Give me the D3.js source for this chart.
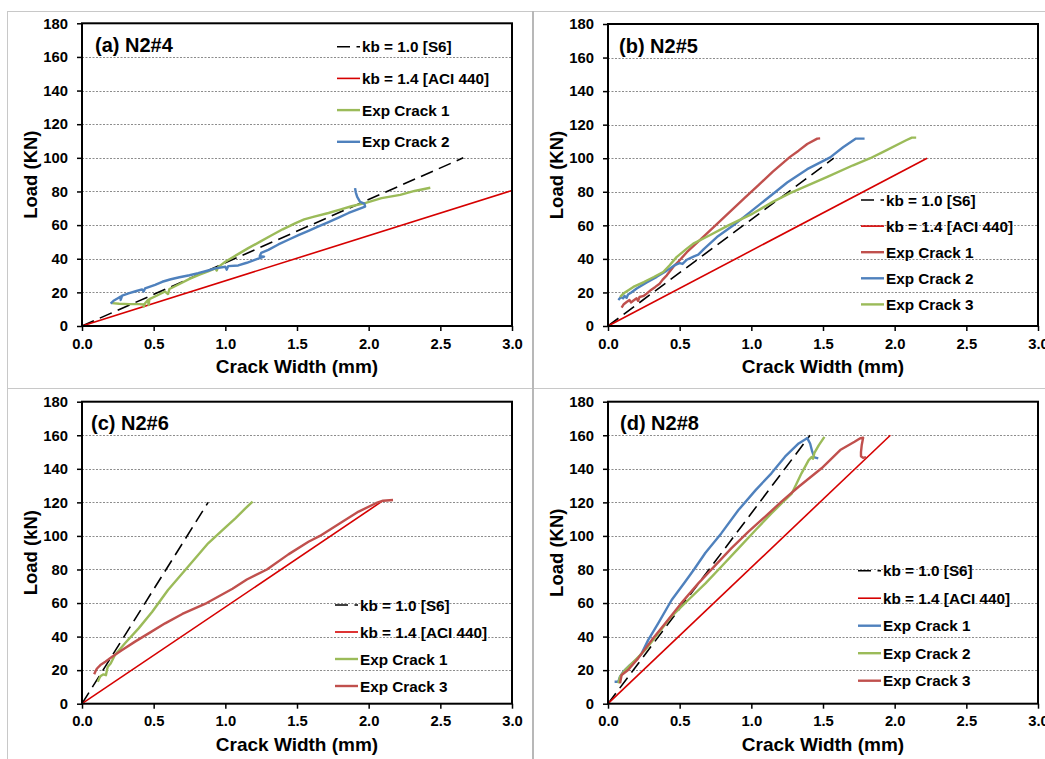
<!DOCTYPE html>
<html>
<head>
<meta charset="utf-8">
<script src="https://cdn.jsdelivr.net/npm/d3@7"></script>
<style>
  body { margin: 0; background: #fff; }
  svg { display: block; font-family: "Liberation Sans", Arial, sans-serif; font-weight: bold; }
</style>
</head>
<body>
<div id="chart"></div>
<script>
// ticks
const xTicks = [0, 0.5, 1.0, 1.5, 2.0, 2.5, 3.0];
const yTicks = [0, 20, 40, 60, 80, 100, 120, 140, 160, 180];

// (a) N2#4
const aS6 = [[0, 0], [2.66, 100]];
const aAci = [[0, 0], [3.0, 80.6]];
const aCrack1 = [[0.21, 13.6], [0.26, 13.2], [0.33, 13], [0.40, 13], [0.43, 12.8], [0.43, 11.5], [0.44, 13.5], [0.46, 15.5], [0.465, 12.5], [0.47, 16], [0.52, 18], [0.58, 20.5], [0.60, 19], [0.61, 22], [0.68, 25], [0.75, 28], [0.82, 30.5], [0.88, 32.5], [0.93, 34.3], [0.94, 33], [0.95, 35], [1.0, 38.2], [1.08, 42.3], [1.16, 46.3], [1.24, 50], [1.32, 53.8], [1.40, 57.5], [1.49, 61.2], [1.55, 63.4], [1.62, 65], [1.72, 67.2], [1.80, 69.2], [1.88, 71.2], [1.98, 73.2], [2.09, 76], [2.22, 78], [2.32, 80.3], [2.43, 82.2]];
const aCrack2 = [[0.20, 13.3], [0.22, 15], [0.25, 16.5], [0.27, 17.5], [0.27, 15.5], [0.28, 18], [0.33, 19.5], [0.38, 20.8], [0.42, 21.8], [0.43, 20.5], [0.44, 22.3], [0.51, 24.5], [0.56, 26.3], [0.62, 27.8], [0.68, 29], [0.75, 30.2], [0.81, 31.4], [0.88, 33], [0.93, 34.3], [1.0, 35.2], [1.01, 33.5], [1.02, 35.6], [1.09, 36], [1.15, 37.6], [1.21, 39.4], [1.27, 41.2], [1.24, 41.5], [1.25, 43.5], [1.30, 45.3], [1.37, 48.5], [1.44, 51.3], [1.51, 54], [1.58, 56.6], [1.65, 59.2], [1.72, 61.8], [1.79, 64.5], [1.86, 67.2], [1.92, 69.2], [1.975, 71], [1.97, 72.8], [1.94, 73.8], [1.92, 76.8], [1.91, 79.5], [1.905, 82]];

// (b) N2#5
const bS6 = [[0, 0], [1.575, 100]];
const bAci = [[0, 0], [2.226, 100]];
const bCrack1 = [[0.095, 10.9], [0.11, 13], [0.13, 14.3], [0.15, 15.5], [0.16, 14], [0.18, 15.3], [0.20, 16.5], [0.21, 15], [0.22, 17.3], [0.25, 18], [0.27, 19.3], [0.30, 21.5], [0.33, 23.3], [0.36, 25.2], [0.38, 27.5], [0.41, 30.2], [0.455, 35.2], [0.50, 39.2], [0.55, 44], [0.65, 52], [0.75, 60], [0.85, 68], [0.95, 76], [1.05, 84], [1.15, 92], [1.27, 100.8], [1.33, 104.5], [1.39, 108.5], [1.46, 111.7], [1.48, 111.8]];
const bCrack2 = [[0.072, 15.5], [0.09, 17.2], [0.105, 16.5], [0.115, 18], [0.13, 16.8], [0.14, 18.8], [0.16, 19.8], [0.2, 22.3], [0.27, 26], [0.34, 29.3], [0.41, 33], [0.47, 36.5], [0.50, 37.5], [0.52, 37], [0.55, 39.5], [0.60, 41.5], [0.63, 42.5], [0.67, 46], [0.76, 53], [0.875, 60], [1.0, 68.5], [1.17, 80], [1.25, 85.5], [1.39, 93.5], [1.55, 100.5], [1.64, 106.5], [1.73, 111.7], [1.79, 111.7]];
const bCrack3 = [[0.084, 17.3], [0.107, 19.3], [0.177, 23.3], [0.25, 26.2], [0.32, 29.2], [0.385, 32.2], [0.43, 36.2], [0.48, 41.2], [0.55, 46.1], [0.595, 49.1], [0.71, 54.1], [0.84, 60], [1.01, 67], [1.15, 74], [1.27, 79.2], [1.53, 88.9], [1.71, 95.8], [1.83, 100], [1.92, 103.8], [2.08, 110.7], [2.12, 112.3], [2.15, 112.3]];

// (c) N2#6
const cS6 = [[0, 0], [0.88, 120]];
const cAci = [[0, 0], [2.1, 121]];
const cCrack1 = [[0.11, 13.1], [0.12, 15], [0.128, 16.3], [0.15, 17.5], [0.167, 17], [0.174, 20.1], [0.18, 22], [0.2, 24], [0.23, 29], [0.30, 36], [0.395, 44.9], [0.49, 54.8], [0.60, 67.8], [0.72, 79.7], [0.81, 88.6], [0.88, 95.6], [0.98, 103.5], [1.07, 110.5], [1.14, 116.4], [1.19, 120.4]];
const cCrack3 = [[0.085, 17.5], [0.095, 19.5], [0.105, 21], [0.128, 23], [0.163, 25], [0.21, 28], [0.28, 32], [0.37, 37], [0.465, 41.9], [0.58, 47.9], [0.70, 53.5], [0.87, 60], [1.05, 68.5], [1.15, 74], [1.29, 80], [1.44, 89], [1.58, 96.5], [1.66, 100], [1.80, 107.5], [1.93, 114.5], [2.05, 119.5], [2.10, 121], [2.17, 121.4]];

// (d) N2#8
const dS6 = [[0, 0], [1.41, 160]];
const dAci = [[0, 0], [1.97, 160]];
const dCrack1 = [[0.046, 13.1], [0.072, 13.1], [0.084, 16.1], [0.107, 19.1], [0.153, 23], [0.2, 26.4], [0.235, 30], [0.28, 37.9], [0.35, 47.9], [0.444, 61.8], [0.537, 72.5], [0.60, 80], [0.68, 90], [0.79, 101.5], [0.91, 115.4], [1.03, 127.3], [1.14, 137.3], [1.235, 147.2], [1.33, 155.1], [1.375, 157.5], [1.39, 158.3], [1.41, 155.1], [1.425, 150.2], [1.44, 146.8], [1.467, 146.2]];
const dCrack2 = [[0.072, 12.1], [0.084, 16.1], [0.12, 20.1], [0.19, 26], [0.26, 32], [0.35, 41.9], [0.44, 51.8], [0.56, 61.8], [0.68, 71.7], [0.79, 81.6], [0.91, 92.6], [1.03, 103.5], [1.14, 113.4], [1.235, 121.4], [1.28, 125], [1.305, 129.3], [1.35, 137.3], [1.40, 145.2], [1.42, 147], [1.43, 146], [1.44, 149.5], [1.47, 154], [1.51, 159]];
const dCrack3 = [[0.084, 12.1], [0.095, 17.1], [0.14, 20.1], [0.21, 27], [0.305, 37.9], [0.40, 47.9], [0.51, 59.8], [0.63, 71.7], [0.75, 82.6], [0.86, 92.6], [0.98, 102.5], [1.095, 111.4], [1.21, 120.4], [1.33, 129.3], [1.49, 140.3], [1.62, 151.2], [1.72, 156.1], [1.76, 158.2], [1.78, 158.5], [1.77, 154], [1.765, 150], [1.765, 147.5], [1.78, 146.5], [1.80, 147]];

const C = { black: "#000", aci: "#d60000", red: "#c0504d", blue: "#4f81bd", green: "#9bbb59" };

const s6 = (d) => ({ name: "kb = 1.0 [S6]", data: d, color: C.black, dash: "13,6.5", w: 1.6 });
const aci = (d) => ({ name: "kb = 1.4 [ACI 440]", data: d, color: C.aci, w: 1.6 });
const exp = (name, d, color) => ({ name, data: d, color, w: 2.4 });

const panels = [
  { title: "(a) N2#4", yLabel: "Load (KN)", box: [82, 23.3, 512, 326], titleDx: 13,
    legend: { dx: 255, dy: 23.4, step: 31.7 },
    series: [s6(aS6), aci(aAci), exp("Exp Crack 1", aCrack1, C.green), exp("Exp Crack 2", aCrack2, C.blue)] },
  { title: "(b) N2#5", yLabel: "Load (KN)", box: [608, 24, 1038, 326], titleDx: 11,
    legend: { dx: 253, dy: 176, step: 26.1 },
    series: [s6(bS6), aci(bAci), exp("Exp Crack 1", bCrack1, C.red), exp("Exp Crack 2", bCrack2, C.blue), exp("Exp Crack 3", bCrack3, C.green)] },
  { title: "(c) N2#6", yLabel: "Load (kN)", box: [82, 401.7, 512, 703.7], titleDx: 9,
    legend: { dx: 253, dy: 203.3, step: 27 },
    series: [s6(cS6), aci(cAci), exp("Exp Crack 1", cCrack1, C.green), exp("Exp Crack 3", cCrack3, C.red)] },
  { title: "(d) N2#8", yLabel: "Load (KN)", box: [608, 401.7, 1038, 703.7], titleDx: 12,
    legend: { dx: 250, dy: 169, step: 27.5 },
    series: [s6(dS6), aci(dAci), exp("Exp Crack 1", dCrack1, C.blue), exp("Exp Crack 2", dCrack2, C.green), exp("Exp Crack 3", dCrack3, C.red)] },
];

const W = 1045, H = 759;
const svg = d3.select("#chart").append("svg").attr("width", W).attr("height", H);

// panel frames (grey separators)
const frame = svg.append("g").attr("stroke", "#c8c8c8").attr("fill", "none");
frame.append("line").attr("x1", 7.5).attr("x2", 7.5).attr("y1", 11).attr("y2", H);
frame.append("line").attr("x1", 7).attr("x2", W).attr("y1", 11.5).attr("y2", 11.5);
frame.append("line").attr("x1", 7).attr("x2", W).attr("y1", 388.5).attr("y2", 388.5);
frame.append("line").attr("x1", 533).attr("x2", 533).attr("y1", 11).attr("y2", H).attr("stroke", "#b8b8b8").attr("stroke-width", 2);

panels.forEach((p) => {
  const [L, T, R, B] = p.box;
  const x = d3.scaleLinear().domain([0, 3]).range([L, R]);
  const y = d3.scaleLinear().domain([0, 180]).range([B, T]);
  const g = svg.append("g");

  // dotted gridlines
  g.append("g")
    .selectAll("line")
    .data(yTicks.filter((v) => v > 0 && v < 180))
    .join("line")
    .attr("x1", L).attr("x2", R)
    .attr("y1", (d) => Math.round(y(d)) + 0.5).attr("y2", (d) => Math.round(y(d)) + 0.5)
    .attr("stroke", "#8c8c8c").attr("stroke-width", 1).attr("stroke-dasharray", "2,1.5");

  // axes
  const ya = g.append("g").attr("transform", `translate(${L},0)`)
    .call(d3.axisLeft(y).tickValues(yTicks).tickSize(5).tickPadding(9).tickFormat(d3.format("d")));
  const xa = g.append("g").attr("transform", `translate(0,${B})`)
    .call(d3.axisBottom(x).tickValues(xTicks).tickSize(5).tickPadding(7).tickFormat(d3.format(".1f")));
  [ya, xa].forEach((a) => {
    a.select(".domain").remove();
    a.selectAll(".tick line").attr("stroke", "#000").attr("stroke-width", 1.5);
    a.selectAll(".tick text").attr("fill", "#000")
      .style("font-size", "14.8px").style("font-weight", "bold")
      .style("font-family", '"Liberation Sans", Arial, sans-serif');
  });

  // series
  const line = d3.line().x((d) => x(d[0])).y((d) => y(d[1]));
  g.append("g")
    .selectAll("path")
    .data(p.series)
    .join("path")
    .attr("d", (s) => line(s.data))
    .attr("fill", "none")
    .attr("stroke", (s) => s.color)
    .attr("stroke-width", (s) => s.w)
    .attr("stroke-dasharray", (s) => s.dash || null)
    .attr("stroke-linejoin", "round");

  // plot box
  g.append("rect")
    .attr("x", L).attr("y", T).attr("width", R - L).attr("height", B - T)
    .attr("fill", "none").attr("stroke", "#000").attr("stroke-width", 2);

  // panel title
  g.append("text")
    .attr("x", L + p.titleDx).attr("y", T + 28.5)
    .attr("font-size", 20).text(p.title);

  // legend
  const lg = g.append("g").attr("transform", `translate(${L + p.legend.dx},${T + p.legend.dy})`);
  const row = lg.selectAll("g").data(p.series).join("g")
    .attr("transform", (d, i) => `translate(0,${i * p.legend.step})`);
  row.append("line")
    .attr("x1", 0).attr("x2", 23).attr("y1", 0).attr("y2", 0)
    .attr("stroke", (s) => s.color).attr("stroke-width", (s) => s.w)
    .attr("stroke-dasharray", (s) => s.dash || null);
  row.append("text")
    .attr("x", 25).attr("y", 0).attr("dy", "0.36em")
    .attr("font-size", 15.3)
    .text((s) => s.name);

  // axis titles
  g.append("text")
    .attr("x", (L + R) / 2).attr("y", B + 47)
    .attr("text-anchor", "middle").attr("font-size", 19)
    .text("Crack Width (mm)");
  g.append("text")
    .attr("transform", `translate(${L - 52},${(T + B) / 2}) rotate(-90)`)
    .attr("text-anchor", "middle").attr("dy", "0.36em").attr("font-size", 18.5)
    .text(p.yLabel);
});
</script>
</body>
</html>
